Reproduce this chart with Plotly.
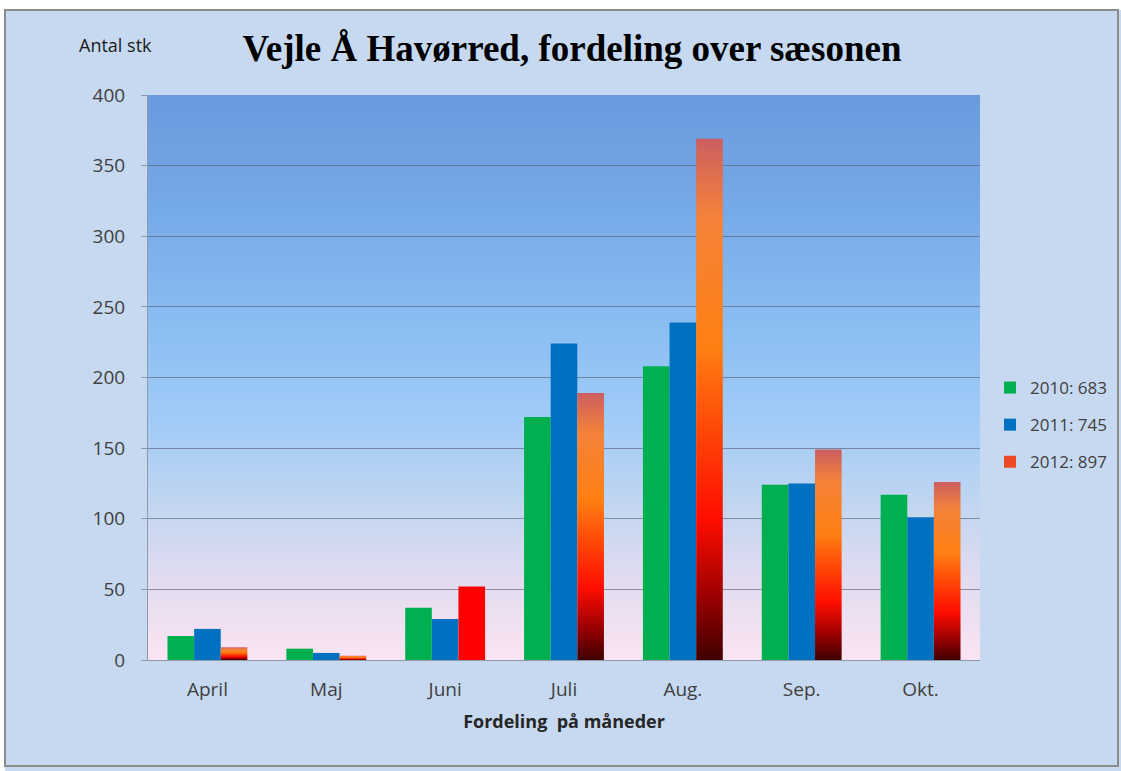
import base64
import plotly.graph_objects as go

MONTHS = ["April", "Maj", "Juni", "Juli", "Aug.", "Sep.", "Okt."]
YEARS = ["2010", "2011", "2012"]
CATCH_2010 = [17, 8, 37, 172, 208, 124, 117]
CATCH_2011 = [22, 5, 29, 224, 239, 125, 101]
CATCH_2012 = [9, 3, 52, 189, 369, 149, 126]

W, H = 1121, 771
M_L, M_R, M_T, M_B = 148, 141, 95, 111
BAR_W = 0.224

GREEN = "#00b050"
BLUE = "#0070c0"
# 2012 bars fade from dark maroon at the base up to a dusty rose top
GRAD_2012 = [
    [0.0, "#3f0000"], [0.12, "#9a0000"], [0.27, "#ff0d00"],
    [0.45, "#ff4a08"], [0.6, "#ff7f12"], [0.85, "#f4823a"], [1.0, "#cc5e60"],
]
SOLID_2012 = {"Juni": "#ff0000"}  # this bar is drawn plain red in the original
LEGEND_2012 = "#ec4a26"

TXT = "#404040"
FONT = "Open Sans"


def px_x(px):
    return (px - M_L) / (W - M_L - M_R)


def px_y(py):
    return (H - M_B - py) / (H - M_T - M_B)


def plot_background():
    """Vertical blue-to-pink gradient behind the plot area, as an inline SVG."""
    stops = [
        (0.0, "#6a9ade"), (0.2, "#76a9e8"), (0.38, "#88bbf2"),
        (0.57, "#9fcbf7"), (0.72, "#c0d5f1"), (0.86, "#e2dcf0"), (1.0, "#fbe4f3"),
    ]
    stop_xml = "".join(f'<stop offset="{o}" stop-color="{c}"/>' for o, c in stops)
    svg = (
        '<svg xmlns="http://www.w3.org/2000/svg" width="100" height="100" '
        'preserveAspectRatio="none"><defs><linearGradient id="g" x1="0" y1="0" '
        f'x2="0" y2="1">{stop_xml}</linearGradient></defs>'
        '<rect width="100" height="100" fill="url(#g)"/></svg>'
    )
    return "data:image/svg+xml;base64," + base64.b64encode(svg.encode()).decode()


fig = go.Figure()

xs = list(range(len(MONTHS)))
for vals, year, color, k in [(CATCH_2010, "2010", GREEN, 0), (CATCH_2011, "2011", BLUE, 1)]:
    fig.add_trace(go.Bar(
        x=xs, y=vals,
        width=BAR_W, offset=(k - 1.5) * BAR_W,
        marker=dict(color=color, line=dict(width=0)),
        name=f"{year}: {sum(vals)}",
        legendgroup=year,
        customdata=MONTHS,
        hovertemplate="%{customdata}: %{y}<extra>" + year + "</extra>",
    ))

# plotly bars cannot take a gradient, so 2012 is drawn as filled rectangles
for i, (month, v) in enumerate(zip(MONTHS, CATCH_2012)):
    x0, x1 = i + 0.5 * BAR_W, i + 1.5 * BAR_W
    style = dict(fillcolor=SOLID_2012[month]) if month in SOLID_2012 else dict(
        fillgradient=dict(type="vertical", colorscale=GRAD_2012))
    fig.add_trace(go.Scatter(
        x=[x0, x1, x1, x0, x0], y=[0, 0, v, v, 0],
        fill="toself", mode="lines",
        line=dict(width=0, color="rgba(0,0,0,0)"),
        legendgroup="2012",
        showlegend=False,
        hoveron="fills",
        hoverinfo="text",
        text=f"{month}: {v}",
        **style,
    ))

# legend-only entry so 2012 gets a square swatch like the other years
fig.add_trace(go.Bar(
    x=[None], y=[None],
    marker=dict(color=LEGEND_2012, line=dict(width=0)),
    name=f"2012: {sum(CATCH_2012)}",
    legendgroup="2012",
))

fig.update_layout(
    width=W, height=H,
    margin=dict(l=M_L, r=M_R, t=M_T, b=M_B, autoexpand=False),
    paper_bgcolor="#c6d9f1",
    plot_bgcolor="rgba(0,0,0,0)",
    font=dict(family=FONT, color=TXT),
    barmode="overlay",
    title=dict(
        text="<b>Vejle Å Havørred, fordeling over sæsonen</b>",
        font=dict(family="Liberation Serif", size=37, color="#000000"),
        x=px_x(572), xref="paper", xanchor="center",
        y=1 - 48 / H, yanchor="middle",
    ),
    xaxis=dict(
        range=[-0.5, len(MONTHS) - 0.5],
        tickvals=xs, ticktext=MONTHS,
        tickfont=dict(size=19, color=TXT),
        ticklabelstandoff=12,
        showgrid=False, zeroline=False,
        showline=True, linecolor="#8f9aa8", linewidth=1,
        title=dict(text="<b>Fordeling  på måneder</b>",
                   font=dict(size=18, color="#262626"), standoff=14),
        fixedrange=True,
    ),
    yaxis=dict(
        range=[0, 400], dtick=50,
        tickfont=dict(size=19, color=TXT),
        ticks="outside", ticklen=6, tickcolor="#8f9aa8",
        showgrid=True, gridcolor="rgba(80,90,110,0.6)", gridwidth=1,
        zeroline=False,
        showline=True, linecolor="#8f9aa8", linewidth=1,
        ticklabelstandoff=12,
        fixedrange=True,
    ),
    legend=dict(
        x=px_x(990), xanchor="left",
        y=px_y(425), yanchor="middle",
        font=dict(size=17, color=TXT),
        bgcolor="rgba(0,0,0,0)",
        tracegroupgap=12,
        itemwidth=30,
    ),
    images=[dict(
        source=plot_background(),
        xref="paper", yref="paper", x=0, y=1, sizex=1, sizey=1,
        xanchor="left", yanchor="top", sizing="stretch", layer="below",
    )],
    annotations=[dict(
        text="Antal stk", x=px_x(115), y=px_y(45),
        xref="paper", yref="paper", showarrow=False,
        xanchor="center", yanchor="middle",
        font=dict(size=18, color="#1a1a1a"),
    )],
    shapes=[
        # white margin outside the chart frame, plus the frame itself
        dict(type="rect", xref="paper", yref="paper", layer="below",
             x0=px_x(-10), x1=px_x(W + 10), y0=px_y(10), y1=px_y(-10),
             fillcolor="#ffffff", line=dict(width=0)),
        dict(type="rect", xref="paper", yref="paper", layer="below",
             x0=px_x(-10), x1=px_x(5), y0=px_y(H + 10), y1=px_y(-10),
             fillcolor="#ffffff", line=dict(width=0)),
        dict(type="rect", xref="paper", yref="paper", layer="above",
             x0=px_x(5), x1=px_x(W - 3), y0=px_y(H - 5), y1=px_y(10),
             line=dict(color="#8c8c8c", width=2)),
    ],
)

# the page's default body margin would push the fixed-size figure off-screen
fig.write_html(
    "out.html",
    config={"displayModeBar": False},
    post_script="document.body.style.margin = '0';",
)
